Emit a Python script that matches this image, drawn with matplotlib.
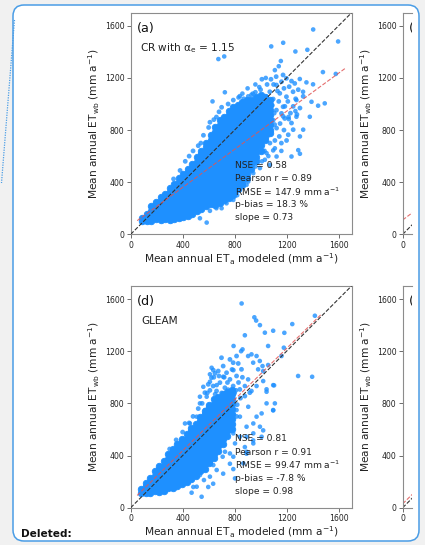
import matplotlib
matplotlib.use('Agg')
import matplotlib.pyplot as plt
from matplotlib.patches import FancyBboxPatch
from matplotlib.lines import Line2D

# ---------------- data ----------------
ticks = [0, 400, 800, 1200, 1600]
lim = 1700

# panel (a): CR with alpha_e = 1.15
# dense (solid) core: ETa column -> ETwb values
core_a = {
    90: [100, 125],
    125: [102, 119, 157],
    160: [104, 138, 176, 214],
    195: [119, 157, 195, 233, 250],
    230: [108, 138, 176, 214, 252, 285],
    265: [119, 157, 195, 233, 271, 309],
    300: [113, 138, 176, 214, 252, 290, 328, 355],
    335: [119, 157, 195, 233, 271, 309, 347, 385],
    370: [122, 138, 176, 214, 252, 290, 328, 366, 404, 430],
    405: [130, 157, 195, 233, 271, 309, 347, 385, 423, 461],
    440: [138, 176, 214, 252, 290, 328, 366, 404, 442, 480, 505],
    475: [157, 195, 233, 271, 309, 347, 385, 423, 461, 499, 537],
    510: [176, 214, 252, 290, 328, 366, 404, 442, 480, 518, 556, 590],
    545: [195, 233, 271, 309, 347, 385, 423, 461, 499, 537, 575, 613, 640],
    580: [214, 252, 290, 328, 366, 404, 442, 480, 518, 556, 594, 632, 670, 700],
    615: [233, 271, 309, 347, 385, 423, 461, 499, 537, 575, 613, 651, 689, 727, 765],
    650: [222, 252, 290, 328, 366, 404, 442, 480, 518, 556, 594, 632, 670, 708, 746, 784, 822],
    685: [242, 271, 309, 347, 385, 423, 461, 499, 537, 575, 613, 651, 689, 727, 765, 803, 841, 879],
    720: [260, 290, 328, 366, 404, 442, 480, 518, 556, 594, 632, 670, 708, 746, 784, 822, 860, 898],
    755: [280, 309, 347, 385, 423, 461, 499, 537, 575, 613, 651, 689, 727, 765, 803, 841, 879, 917, 950],
    790: [300, 328, 366, 404, 442, 480, 518, 556, 594, 632, 670, 708, 746, 784, 822, 860, 898, 936, 974],
    825: [347, 385, 423, 461, 499, 537, 575, 613, 651, 689, 727, 765, 803, 841, 879, 917, 955, 993],
    860: [380, 404, 442, 480, 518, 556, 594, 632, 670, 708, 746, 784, 822, 860, 898, 936, 974, 1012],
    895: [430, 461, 499, 537, 575, 613, 651, 689, 727, 765, 803, 841, 879, 917, 955, 993, 1031],
    930: [498, 537, 575, 613, 651, 689, 727, 765, 803, 841, 879, 917, 955, 993, 1031],
    965: [560, 594, 632, 670, 708, 746, 784, 822, 860, 898, 936, 974, 1012, 1050],
    1000: [640, 689, 727, 765, 803, 841, 879, 917, 955, 993, 1031, 1069],
    1035: [720, 746, 784, 822, 860, 898, 936, 974, 1012, 1050],
    1070: [780, 803, 841, 879, 917, 955, 993, 1031],
}
# semi-dense upper-right part of the cloud and its ragged edges
mid_a = [
    (1173, 1223), (1199, 1197), (1161, 1171), (1122, 1146), (1238, 1176), (1263, 1158),
    (1220, 1133), (1071, 1094), (1045, 1056), (1097, 1038), (1148, 1082), (1199, 1056),
    (1250, 1094), (1122, 953), (1173, 979), (1161, 928), (1071, 979), (1058, 915),
    (1097, 876), (1186, 889), (1123, 815), (1072, 700), (1213, 764), (1251, 803),
    (1144, 751), (1174, 905), (1238, 854), (1187, 982), (1251, 982), (1303, 969),
    (1328, 1059), (1108, 842), (1150, 850), (1180, 800), (1200, 720), (1060, 760),
    (1100, 1150), (1130, 1100), (1180, 1120), (1210, 1020), (1230, 930), (1140, 1020),
    (1090, 990), (1270, 1040), (1290, 1110), (1160, 700), (1110, 720), (1030, 640),
    (1000, 1110), (1050, 1150), (1080, 1190), (1010, 1190), (1120, 1210), (1215, 900),
    (1280, 920), (1105, 930), (960, 1090), (930, 1070), (905, 1058), (870, 1040),
    (420, 560), (480, 640), (540, 700), (560, 760), (600, 820), (640, 880), (680, 940),
    (700, 975), (520, 680), (450, 600), (380, 490), (330, 425), (750, 1000), (790, 1030),
    (840, 1060), (660, 900), (610, 860),
]
sparse_a = [
    (1405, 1572), (1597, 1480), (1174, 1470), (1082, 1442), (1268, 1403), (1360, 1416),
    (675, 1345), (720, 1365), (1156, 1330), (1480, 1245), (1579, 1231), (725, 1090), (630, 1020),
    (1302, 1192), (1353, 1166), (1404, 1151), (1276, 1030), (1327, 1094), (1392, 1017),
    (1494, 1005), (1443, 987), (1379, 902), (1268, 946), (1217, 884), (1276, 902),
    (1110, 1260), (1140, 1290), (1040, 1200), (960, 1150), (990, 1130),
    (900, 1120), (860, 1080), (830, 1050), (940, 1080),
    (1290, 646), (1303, 618), (1238, 597), (1097, 644), (1303, 751), (1328, 803),
    (1123, 597), (1046, 623), (1033, 572), (1072, 533), (995, 508), (944, 469),
    (1110, 660), (1160, 640), (1010, 560), (1060, 600),
    (790, 264), (738, 238), (841, 341), (905, 405), (944, 546), (880, 444), (892, 380),
    (533, 123), (585, 90), (700, 200), (610, 180), (660, 200), (820, 300), (960, 520),
]
fit_a = (0.73, 68, 50, 1650)      # slope, intercept, x start, x end
stats_a = ['NSE = 0.58', 'Pearson r = 0.89', r'RMSE = 147.9 mm a$^{-1}$',
           'p-bias = 18.3 %', 'slope = 0.73']

# panel (d): GLEAM
core_d = {
    80: [110, 140],
    115: [110, 129, 167, 190],
    150: [112, 148, 186, 224],
    185: [129, 167, 205, 243, 278],
    220: [124, 148, 186, 224, 262, 300, 320],
    255: [131, 167, 205, 243, 281, 319, 357],
    290: [148, 186, 224, 262, 300, 338, 376, 410],
    325: [152, 167, 205, 243, 281, 319, 357, 395, 433, 450],
    360: [168, 186, 224, 262, 300, 338, 376, 414, 452, 490],
    395: [182, 205, 243, 281, 319, 357, 395, 433, 471, 509, 530],
    430: [200, 224, 262, 300, 338, 376, 414, 452, 490, 528, 566],
    465: [220, 243, 281, 319, 357, 395, 433, 471, 509, 547, 585, 610],
    500: [240, 262, 300, 338, 376, 414, 452, 490, 528, 566, 604, 642],
    535: [281, 319, 357, 395, 433, 471, 509, 547, 585, 623, 661, 699],
    570: [300, 338, 376, 414, 452, 490, 528, 566, 604, 642, 680, 718, 745],
    605: [340, 357, 395, 433, 471, 509, 547, 585, 623, 661, 699, 737, 775, 790],
    640: [380, 414, 452, 490, 528, 566, 604, 642, 680, 718, 756, 794, 830],
    675: [433, 471, 509, 547, 585, 623, 661, 699, 737, 775, 813, 851],
    710: [490, 528, 566, 604, 642, 680, 718, 756, 794, 832, 870],
    745: [547, 585, 623, 661, 699, 737, 775, 813, 851, 889],
    780: [604, 642, 680, 718, 756, 794, 832, 870, 900],
}
mid_d = [
    (622, 997), (674, 1048), (712, 1086), (764, 1137), (789, 1112), (815, 1163),
    (699, 1150), (738, 1035), (764, 984), (815, 1010), (853, 1061), (687, 959),
    (635, 933), (597, 946), (571, 882), (661, 895), (725, 920), (789, 933),
    (840, 907), (879, 856), (917, 882), (650, 870), (700, 880), (745, 960),
    (780, 1060), (830, 960), (860, 1000), (610, 900), (680, 1010), (720, 1000),
    (750, 905), (800, 880), (640, 1000), (590, 880), (815, 700), (820, 790),
    (845, 840), (810, 900), (300, 450), (350, 520), (400, 580), (450, 650),
    (480, 700), (520, 760), (550, 800), (636, 1055), (649, 1030), (790, 1055),
    (828, 1106), (713, 1004),
]
sparse_d = [
    (854, 1566), (1418, 1472), (952, 1460), (966, 1435), (995, 1400), (1097, 1357),
    (1033, 1342), (1183, 1341), (1244, 1408), (879, 1322), (792, 1240), (861, 1214),
    (850, 1200), (1058, 1240), (1179, 1227), (904, 1163), (930, 1176), (969, 1163),
    (994, 1125), (1015, 1086), (981, 1061), (943, 1112), (1161, 1163), (1058, 1094),
    (1020, 1048), (1104, 938), (1289, 1010), (1397, 1004), (1020, 971), (969, 933),
    (1046, 908), (879, 933), (904, 984), (930, 895),
    (623, 1073), (610, 1023),
    (559, 927), (585, 851), (533, 800), (508, 698), (456, 646), (418, 646), (533, 851),
    (572, 749), (610, 621),
    (1097, 940), (1046, 889), (1097, 749), (1008, 723), (944, 646), (892, 621), (995, 621),
    (1008, 544), (944, 493), (892, 429), (803, 493), (867, 340), (803, 225), (790, 296),
    (708, 391), (662, 289), (610, 238), (636, 327), (564, 212), (546, 84), (469, 115),
    (508, 161), (533, 250), (713, 519), (764, 595), (841, 698), (905, 774), (815, 749),
    (738, 876), (662, 940), (610, 966), (597, 544), (649, 493), (674, 429),
    (726, 429), (764, 416), (790, 391), (841, 544), (892, 544), (790, 570), (944, 570),
    (969, 698), (1046, 800), (1110, 800),
    (1097, 746), (1020, 593), (943, 516), (879, 465), (892, 414), (764, 337), (712, 261),
    (635, 184), (597, 159), (482, 159),
]
fit_d = (0.98, 45, 50, 1470)
stats_d = ['NSE = 0.81', 'Pearson r = 0.91', r'RMSE = 99.47 mm a$^{-1}$',
           'p-bias = -7.8 %', 'slope = 0.98']

# cut-off right-hand panels (b) and (e): only their lines are visible
fit_b = (0.75, 110, 0, 1650)
fit_e = (0.98, 30, 0, 1650)

xlabel = r'Mean annual ET$_{\mathrm{a}}$ modeled (mm a$^{-1}$)'
ylabel = r'Mean annual ET$_{\mathrm{wb}}$ (mm a$^{-1}$)'

# ---------------- figure ----------------
W, H = 425, 545
fig = plt.figure(figsize=(W / 100, H / 100), dpi=100)
fig.patch.set_facecolor('#f1f1f1')

frame_col = '#4a9de6'
frame = FancyBboxPatch((0.13, 0.04), 4.06, 5.36,
                       boxstyle='round,pad=0,rounding_size=0.11',
                       transform=fig.dpi_scale_trans, facecolor='white',
                       edgecolor=frame_col, linewidth=1.1, zorder=-5)
fig.add_artist(frame)
fig.add_artist(Line2D([0.145, 0.015], [5.25, 3.62], transform=fig.dpi_scale_trans,
                      color=frame_col, linestyle=(0, (1, 1)), linewidth=0.9))

dot_col = '#1e90ff'


def px_axes(left, top, width, height):
    return fig.add_axes([left / W, 1 - (top + height) / H, width / W, height / H])


def style(ax, xmax):
    ax.set_xlim(0, xmax)
    ax.set_ylim(0, lim)
    for s in ax.spines.values():
        s.set_color('#8c8c8c')
        s.set_linewidth(0.8)
    ax.tick_params(labelsize=5.6, length=3, width=0.6, color='#555555',
                   labelcolor='#222222', pad=1.5)
    ax.set_yticks(ticks)
    ax.set_ylabel(ylabel, fontsize=7.7, color='#222222', labelpad=2.2)


def cols(d):
    xs = [x for x, ys in d.items() for _ in ys]
    ys = [y for v in d.values() for y in v]
    return xs, ys


def pts(ax, pairs, s):
    ax.scatter([p[0] for p in pairs], [p[1] for p in pairs], s=s, color=dot_col,
               alpha=0.8, edgecolors='none', zorder=2)


def panel(ax, core, mid, sparse, fit, stats, letter, label):
    style(ax, lim)
    ax.set_xticks(ticks)
    ax.set_xlabel(xlabel, fontsize=7.7, color='#222222', labelpad=1.2)
    cx, cy = cols(core)
    ax.scatter(cx, cy, s=22, color=dot_col, alpha=1.0, edgecolors=dot_col,
               linewidths=0.6, zorder=2)
    pts(ax, mid, 12)
    pts(ax, sparse, 11)
    ax.plot([0, lim], [0, lim], ls='--', color='#333333', lw=0.8, zorder=3)
    k, b, x0, x1 = fit
    ax.plot([x0, x1], [k * x0 + b, k * x1 + b], ls='--', color='#e05555',
            lw=0.8, alpha=0.85, zorder=3)
    for i, t in enumerate(stats):
        ax.text(800, 527 - i * 100, t, fontsize=6.6, color='#222222',
                va='center', ha='left', zorder=4)
    ax.text(48, 1582, letter, fontsize=9.2, color='#111111', va='center', ha='left')
    ax.text(label[1], 1428, label[0], fontsize=7.6, color='#222222',
            va='center', ha='left')


def stub(ax, fit, letter):
    style(ax, 9.3 / 0.12975)
    ax.spines['right'].set_visible(False)
    ax.set_xticks([0])
    ax.plot([0, lim], [0, lim], ls='--', color='#333333', lw=0.8)
    k, b, x0, x1 = fit
    ax.plot([x0, x1], [k * x0 + b, k * x1 + b], ls='--', color='#e05555',
            lw=0.8, alpha=0.85)
    t = ax.text(48, 1582, letter, fontsize=9.2, color='#111111', va='center', ha='left')
    t.set_clip_on(True)


ax_a = px_axes(130.7, 12.8, 220.8, 221.5)
panel(ax_a, core_a, mid_a, sparse_a, fit_a, stats_a, '(a)',
      (r'CR with $\mathrm{\alpha_e}$ = 1.15', 70))
ax_d = px_axes(130.7, 286.0, 220.8, 221.7)
panel(ax_d, core_d, mid_d, sparse_d, fit_d, stats_d, '(d)', ('GLEAM', 82))

ax_b = px_axes(402.7, 12.8, 9.3, 221.5)
stub(ax_b, fit_b, '(b)')
ax_e = px_axes(402.7, 286.0, 9.3, 221.7)
stub(ax_e, fit_e, '(e)')

fig.text(21 / W, 1 - 534 / H, 'Deleted:', fontsize=7.6, fontweight='bold',
         color='#111111', va='center', ha='left')

fig.savefig('out.png', dpi=100, facecolor=fig.get_facecolor())
